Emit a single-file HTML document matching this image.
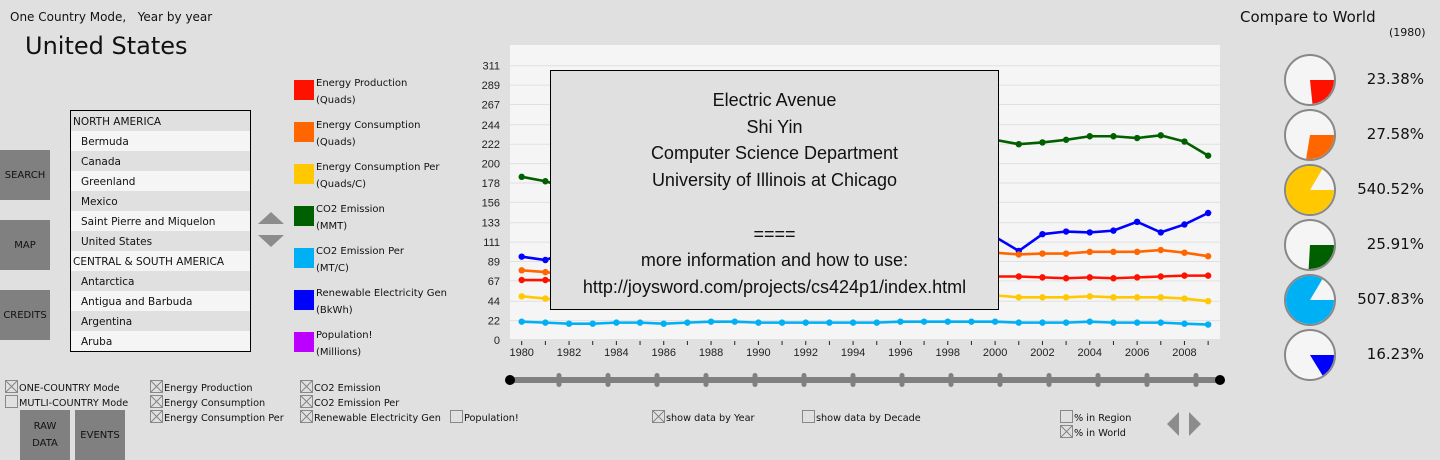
<!DOCTYPE html>
<html><head><meta charset="utf-8"><style>
body{margin:0;width:1440px;height:460px;background:#e0e0e0;overflow:hidden;position:relative;font-family:"DejaVu Sans","Liberation Sans",sans-serif;color:#111}
.a{position:absolute;white-space:nowrap}
.btn{position:absolute;background:#808080;color:#111;font-size:10px;display:flex;align-items:center;justify-content:center;text-align:center;line-height:17px}
.row{height:20px;line-height:22px;font-size:10.5px;padding-left:10px}
.row.h{padding-left:2px}
.sw{position:absolute;width:20px;height:20px;left:294px}
.lg{position:absolute;left:316px;font-size:10px;line-height:17px}
.cb{position:absolute;font-size:9.7px;line-height:15px;white-space:nowrap}
.cb i{display:inline-block;width:11px;height:11px;border:1px solid #888;vertical-align:-2px;margin-right:1px;position:relative;background:#e0e0e0}
.cb i.x{background:linear-gradient(45deg,transparent 46%,#888 46%,#888 54%,transparent 54%),linear-gradient(-45deg,transparent 46%,#888 46%,#888 54%,transparent 54%)}
.pct{position:absolute;right:16px;font-size:15px;text-align:right}
</style></head><body>
<div class="a" style="left:10px;top:10px;font-size:12px">One Country Mode,&nbsp;&nbsp;&nbsp;Year by year</div>
<div class="a" style="left:25px;top:32px;font-size:24px">United States</div>

<div class="btn" style="left:0;top:150px;width:50px;height:50px">SEARCH</div>
<div class="btn" style="left:0;top:220px;width:50px;height:50px">MAP</div>
<div class="btn" style="left:0;top:290px;width:50px;height:50px">CREDITS</div>
<div class="btn" style="left:20px;top:410px;width:50px;height:50px">RAW<br>DATA</div>
<div class="btn" style="left:75px;top:410px;width:50px;height:50px">EVENTS</div>

<div class="a" style="left:70px;top:110px;width:179px;height:240px;border:1px solid #000;overflow:hidden">
<div class="row h" style="background:#e0e0e0">NORTH AMERICA</div>
<div class="row" style="background:#f5f5f5">Bermuda</div>
<div class="row" style="background:#e0e0e0">Canada</div>
<div class="row" style="background:#f5f5f5">Greenland</div>
<div class="row" style="background:#e0e0e0">Mexico</div>
<div class="row" style="background:#f5f5f5">Saint Pierre and Miquelon</div>
<div class="row" style="background:#e0e0e0">United States</div>
<div class="row h" style="background:#f5f5f5">CENTRAL &amp; SOUTH AMERICA</div>
<div class="row" style="background:#e0e0e0">Antarctica</div>
<div class="row" style="background:#f5f5f5">Antigua and Barbuda</div>
<div class="row" style="background:#e0e0e0">Argentina</div>
<div class="row" style="background:#f5f5f5">Aruba</div>
</div>
<svg class="a" style="left:256px;top:210px" width="32" height="40">
<polygon points="2,14 15,2 28,14" fill="#8c8c8c"/>
<polygon points="2,25 28,25 15,37" fill="#8c8c8c"/>
</svg>

<div class="sw" style="top:80px;background:#ff1100"></div>
<div class="lg" style="top:75px">Energy Production<br>(Quads)</div>
<div class="sw" style="top:122px;background:#ff6600"></div>
<div class="lg" style="top:117px">Energy Consumption<br>(Quads)</div>
<div class="sw" style="top:164px;background:#ffc800"></div>
<div class="lg" style="top:159px">Energy Consumption Per<br>(Quads/C)</div>
<div class="sw" style="top:206px;background:#006000"></div>
<div class="lg" style="top:201px">CO2 Emission<br>(MMT)</div>
<div class="sw" style="top:248px;background:#00b0f5"></div>
<div class="lg" style="top:243px">CO2 Emission Per<br>(MT/C)</div>
<div class="sw" style="top:290px;background:#0000ff"></div>
<div class="lg" style="top:285px">Renewable Electricity Gen<br>(BkWh)</div>
<div class="sw" style="top:332px;background:#bb00ff"></div>
<div class="lg" style="top:327px">Population!<br>(Millions)</div>

<div class="cb" style="left:5px;top:380px"><i class="x"></i>ONE-COUNTRY Mode</div>
<div class="cb" style="left:5px;top:395px"><i></i>MUTLI-COUNTRY Mode</div>
<div class="cb" style="left:150px;top:380px"><i class="x"></i>Energy Production</div>
<div class="cb" style="left:150px;top:395px"><i class="x"></i>Energy Consumption</div>
<div class="cb" style="left:150px;top:410px"><i class="x"></i>Energy Consumption Per</div>
<div class="cb" style="left:300px;top:380px"><i class="x"></i>CO2 Emission</div>
<div class="cb" style="left:300px;top:395px"><i class="x"></i>CO2 Emission Per</div>
<div class="cb" style="left:300px;top:410px"><i class="x"></i>Renewable Electricity Gen</div>
<div class="cb" style="left:450px;top:410px"><i></i>Population!</div>
<div class="cb" style="left:652px;top:410px"><i class="x"></i>show data by Year</div>
<div class="cb" style="left:802px;top:410px"><i></i>show data by Decade</div>
<div class="cb" style="left:1060px;top:410px"><i></i>% in Region</div>
<div class="cb" style="left:1060px;top:425px"><i class="x"></i>% in World</div>
<svg class="a" style="left:1165px;top:410px" width="40" height="28">
<polygon points="14,2 14,26 2,14" fill="#8c8c8c"/>
<polygon points="24,2 24,26 36,14" fill="#8c8c8c"/>
</svg>

<svg id="chart" class="a" style="left:0;top:0" width="1440" height="460"></svg>

<div class="a" style="left:550px;top:70px;width:449px;height:240px;background:#e0e0e0;border:1px solid #000;font-family:'Liberation Sans',sans-serif;font-size:18px;text-align:center;line-height:26.7px;padding-top:16px;box-sizing:border-box">Electric Avenue<br>Shi Yin<br>Computer Science Department<br>University of Illinois at Chicago<br><br>====<br>more information and how to use:<br>http://joysword.com/projects/cs424p1/index.html</div>

<div class="a" style="left:1240px;top:8px;font-size:15px">Compare to World</div>
<div class="a" style="left:1389px;top:26px;font-size:11px">(1980)</div>
<div id="pcts"></div>

<script>
const years=[];for(let y=1980;y<=2009;y++)years.push(y);
const yTicks=[0,22,44,67,89,111,133,156,178,200,222,244,267,289,311];
const xTickLabels=[1980,1982,1984,1986,1988,1990,1992,1994,1996,1998,2000,2002,2004,2006,2008];
const energyProduction=[68,68,66,64,66,65,64,65,66,67,70,70,69,70,71,71,73,72,73,72,72,72,71,70,71,70,71,72,73,73];
const energyConsumption=[79,77,74,73,76,76,76,78,82,85,85,85,86,88,89,91,94,95,95,97,99,97,98,98,100,100,100,102,99,95];
const energyConsumptionPer=[49.5,47,45,44,46,46,45,47,48,49,50,49,49,50,50,51,51,51,50,51,50.6,48.4,48.4,48.4,49.5,48.4,48.4,48.4,47,44];
const co2Emission=[185,180,172,172,177,178,178,182,190,193,192,190,193,197,200,202,208,211,213,216,227,222,224,227,231,231,229,232,225,209];
const co2EmissionPer=[20.8,19.7,18.5,18.5,19.7,19.7,18.5,19.7,20.8,20.8,19.7,19.7,19.7,19.7,19.7,19.7,20.8,20.8,20.8,20.8,20.8,19.7,19.7,19.7,20.8,19.7,19.7,19.7,18.5,17.5];
const renewable=[94.5,90.7,100,105,100,98,92,85,90,112,105,110,100,105,100,115,110,100,95,105,117,101,120,123,122,124,134,122,131,144];
const pieLabels=["23.38%","27.58%","540.52%","25.91%","507.83%","16.23%"];
const pieFractions=[0.2338,0.2758,0.835,0.2591,0.835,0.1623];

const NS="http://www.w3.org/2000/svg";
const svg=document.getElementById('chart');
function mk(t,a,p){const e=document.createElementNS(NS,t);for(const k in a)e.setAttribute(k,a[k]);(p||svg).appendChild(e);return e;}
const X0=510,X1=1220,YB=339,YT=45;
const xS=y=>521.7+(y-1980)*23.67;
const yS=v=>340-v*0.882;

const bg=mk('rect',{x:X0,y:YT,width:X1-X0,height:YB-YT,fill:'#f5f5f5'});


yTicks.forEach(v=>{
  const g=mk('line',{x1:X0,x2:X1,y1:yS(v),y2:yS(v),stroke:'#e0e0e0','stroke-width':1});
  
  
  const t=mk('text',{x:500,y:yS(v)+4,'text-anchor':'end','font-size':'11','font-family':'Liberation Sans, sans-serif',fill:'#222'});
  t.textContent=v;
  
  
});
years.forEach(y=>{
  const l=mk('line',{x1:xS(y),x2:xS(y),y1:341,y2:345,stroke:'#222','stroke-width':1});
  
  
});
xTickLabels.forEach(y=>{
  const t=mk('text',{x:xS(y),y:356,'text-anchor':'middle','font-size':'11','font-family':'Liberation Sans, sans-serif',fill:'#222'});
  t.textContent=y;
  
  
});
const series=[[co2Emission,'#006000','co2-emission'],[renewable,'#0000ff','renewable'],[energyConsumption,'#ff6600','energy-consumption'],[energyProduction,'#ff1100','energy-production'],[energyConsumptionPer,'#ffc800','energy-consumption-per'],[co2EmissionPer,'#00b0f5','co2-emission-per']];
series.forEach(([d,c,n])=>{
  const p=mk('polyline',{points:d.map((v,i)=>xS(years[i])+','+yS(v)).join(' '),fill:'none',stroke:c,'stroke-width':2.6});
  
  
  d.forEach((v,i)=>{
    const dot=mk('circle',{cx:xS(years[i]),cy:yS(v),r:3.2,fill:c});
    
    
  });
});
const sl=mk('line',{x1:510,x2:1220,y1:380,y2:380,stroke:'#808080','stroke-width':6});


for(let k=1;k<=14;k++){
  const tk=mk('rect',{x:510+49*k-2.5,y:373,width:5,height:14,rx:2.5,fill:'#808080'});
  
  
}
[510,1220].forEach(x=>{
  const h=mk('circle',{cx:x,cy:380,r:5,fill:'#000'});
  
  
});
const pieColors=['#ff1100','#ff6600','#ffc800','#006000','#00b0f5','#0000ff'];
const pc=document.getElementById('pcts');
pieFractions.forEach((f,i)=>{
  const cx=1310,cy=80+55*i,r=25;
  const c=mk('circle',{cx,cy,r,fill:'#f5f5f5',stroke:'#888','stroke-width':2});
  
  
  const a=2*Math.PI*f,rr=24;
  const x2=cx+rr*Math.cos(a),y2=cy+rr*Math.sin(a);
  const w=mk('path',{d:`M${cx},${cy} L${cx+rr},${cy} A${rr},${rr} 0 ${f>0.5?1:0} 1 ${x2},${y2} Z`,fill:pieColors[i]});
  
  
  const d=document.createElement('div');
  d.className='pct';d.style.top=(cy-10)+'px';d.textContent=pieLabels[i];
  
  
  pc.appendChild(d);
});
</script>
</body></html>
